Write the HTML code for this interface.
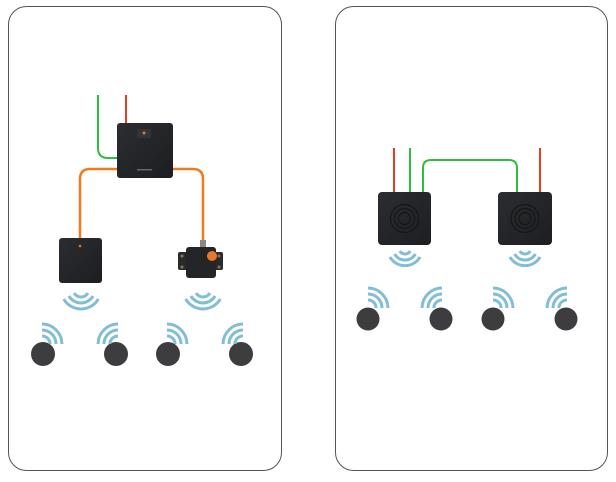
<!DOCTYPE html>
<html><head><style>
html,body{margin:0;padding:0;background:#fff;width:616px;height:482px;overflow:hidden}
</style></head><body>
<svg width="616" height="482" viewBox="0 0 616 482" xmlns="http://www.w3.org/2000/svg">
<defs>
<linearGradient id="dg" x1="0" y1="0" x2="1" y2="1">
<stop offset="0" stop-color="#2c2d31"/><stop offset="1" stop-color="#1d1e21"/>
</linearGradient>
<g id="tw" fill="none" stroke="#82bdd6" stroke-width="3">
<path d="M -5.7 -5.7 A 8 8 0 0 1 5.7 -5.7"/>
<path d="M -9.9 -9.9 A 14 14 0 0 1 9.9 -9.9"/>
<path d="M -14.1 -14.1 A 20 20 0 0 1 14.1 -14.1"/>
</g>
<g id="dw" fill="none" stroke="#82bdd6" stroke-width="3">
<path d="M -6.9 4 A 8 8 0 0 0 6.9 4"/>
<path d="M -12.1 7 A 14 14 0 0 0 12.1 7"/>
<path d="M -17.3 10 A 20 20 0 0 0 17.3 10"/>
</g>
<g id="dw2" fill="none" stroke="#82bdd6" stroke-width="3">
<path d="M -5.2 3 A 6 6 0 0 0 5.2 3"/>
<path d="M -10.4 6 A 12 12 0 0 0 10.4 6"/>
<path d="M -15.1 9 A 17.5 17.5 0 0 0 15.1 9"/>
</g>
</defs>
<rect x="8.5" y="6.5" width="273" height="464" rx="18" fill="#fff" stroke="#555" stroke-width="1"/>
<rect x="335.5" y="6.5" width="272" height="464" rx="18" fill="#fff" stroke="#555" stroke-width="1"/>

<path d="M98 95 V148 Q98 158 108 158 H118" fill="none" stroke="#2fbe3c" stroke-width="2"/>
<path d="M126 95 V123" fill="none" stroke="#e0401e" stroke-width="2"/>
<path d="M118 169 H90 Q80 169 80 179 V240" fill="none" stroke="#f27a1e" stroke-width="2.5"/>
<path d="M172 169 H193 Q203 169 203 179 V243" fill="none" stroke="#f27a1e" stroke-width="2.5"/>

<rect x="117" y="123" width="56" height="55" rx="3" fill="url(#dg)"/>
<rect x="137" y="129" width="14" height="9" fill="#333438"/>
<circle cx="144" cy="133" r="1.5" fill="#e07a2a"/>
<rect x="137" y="169" width="15" height="1.5" fill="#666"/>

<rect x="59" y="238" width="43" height="45" rx="3" fill="url(#dg)"/>
<circle cx="80" cy="246" r="1.3" fill="#e07a2a"/>

<rect x="200" y="240" width="6" height="8" fill="#888"/>
<rect x="178" y="252" width="45" height="18" rx="2" fill="#2a2a2c"/>
<rect x="186" y="247" width="30" height="31" rx="3" fill="#252527"/>
<circle cx="212" cy="256" r="5" fill="#e77a2a"/>
<circle cx="182" cy="256" r="1.5" fill="#8a7a50"/><circle cx="219" cy="256" r="1.5" fill="#8a7a50"/>
<circle cx="182" cy="267" r="1.5" fill="#8a7a50"/><circle cx="219" cy="267" r="1.5" fill="#8a7a50"/>

<use href="#dw" transform="translate(81,289)"/>
<use href="#dw" transform="translate(203,289)"/>

<g fill="#3d3d3f">
<circle cx="43" cy="354" r="12"/><circle cx="116" cy="354" r="12"/>
<circle cx="168" cy="354" r="12"/><circle cx="241" cy="354" r="12"/>
</g>
<use href="#tw" transform="translate(42,344) rotate(45)"/>
<use href="#tw" transform="translate(118,344) rotate(-45)"/>
<use href="#tw" transform="translate(167,344) rotate(45)"/>
<use href="#tw" transform="translate(243,344) rotate(-45)"/>

<path d="M394 148 V193" stroke="#e0401e" stroke-width="2" fill="none"/>
<path d="M410 148 V193" stroke="#2fbe3c" stroke-width="2" fill="none"/>
<path d="M423 193 V168 Q423 160 431 160 H509 Q517 160 517 168 V193" stroke="#2fbe3c" stroke-width="2" fill="none"/>
<path d="M540 148 V193" stroke="#e0401e" stroke-width="2" fill="none"/>

<rect x="378" y="192" width="53" height="53" rx="4" fill="url(#dg)"/>
<g fill="none" stroke="#161618" stroke-width="1.2"><circle cx="404.5" cy="218.5" r="14"/><circle cx="404.5" cy="218.5" r="10"/><circle cx="404.5" cy="218.5" r="6"/></g>
<rect x="498" y="192" width="54" height="53" rx="4" fill="url(#dg)"/>
<g fill="none" stroke="#161618" stroke-width="1.2"><circle cx="525" cy="218.5" r="14"/><circle cx="525" cy="218.5" r="10"/><circle cx="525" cy="218.5" r="6"/></g>

<use href="#dw2" transform="translate(405,248)"/>
<use href="#dw2" transform="translate(525,248)"/>

<g fill="#3d3d3f">
<circle cx="368" cy="319" r="11.5"/><circle cx="441" cy="319" r="11.5"/>
<circle cx="493" cy="319" r="11.5"/><circle cx="566" cy="319" r="11.5"/>
</g>
<use href="#tw" transform="translate(368,308) rotate(45)"/>
<use href="#tw" transform="translate(442,308) rotate(-45)"/>
<use href="#tw" transform="translate(493,308) rotate(45)"/>
<use href="#tw" transform="translate(567,308) rotate(-45)"/>
</svg>
</body></html>
